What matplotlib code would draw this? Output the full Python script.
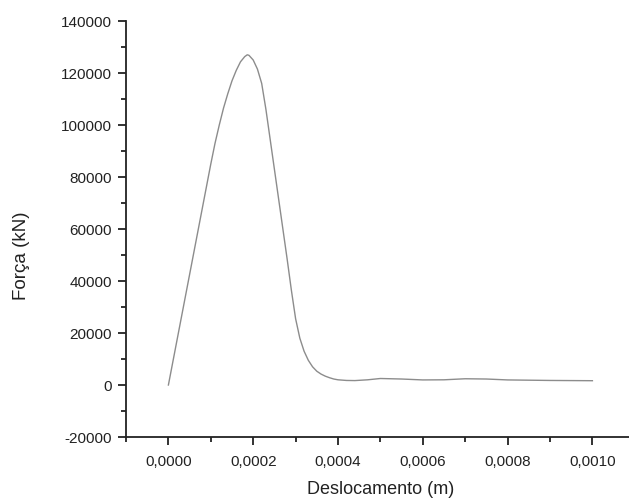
import matplotlib

matplotlib.use("Agg")
import matplotlib.pyplot as plt  # noqa: E402
from matplotlib.ticker import FuncFormatter, MultipleLocator  # noqa: E402

plt.rcParams["font.family"] = ["Liberation Sans", "DejaVu Sans"]

# displacement (m) vs force (kN)
deslocamento = [
    0.0, 0.00002, 0.00004, 0.00006, 0.00008, 0.0001, 0.00011, 0.00012,
    0.00013, 0.00014, 0.00015, 0.00016, 0.00017, 0.00018, 0.000186, 0.00019,
    0.0002, 0.00021, 0.00022, 0.00023, 0.00024, 0.00025, 0.00026, 0.00027,
    0.00028, 0.00029, 0.0003, 0.00031, 0.00032, 0.00033, 0.00034, 0.00035,
    0.00036, 0.00037, 0.00038, 0.00039, 0.0004, 0.00042, 0.00044, 0.00047,
    0.0005, 0.00055, 0.0006, 0.00065, 0.0007, 0.00075, 0.0008, 0.0009, 0.001,
]
forca = [
    0, 17000, 34000, 51000, 68000, 85000, 93000, 100000,
    106500, 112000, 117000, 121000, 124300, 126300, 127000, 126800,
    125000, 121500, 116000, 106000, 94500, 83000, 71500, 60000,
    48500, 36500, 25500, 18000, 13000, 9500, 7000, 5300,
    4200, 3400, 2800, 2300, 2000, 1750, 1700, 2000,
    2500, 2300, 1950, 2000, 2400, 2300, 1950, 1750, 1650,
]

INK = "#222222"

fig = plt.figure(figsize=(6.29, 5.02), dpi=100)
ax = fig.add_axes([126 / 629, 1 - 438 / 502, 508.8 / 629, 416 / 502])
ax.plot(deslocamento, forca, color="#8c8c8c", linewidth=1.0)

ax.set_xlim(-0.0001, 0.0011)
ax.set_ylim(-20000, 140000)
ax.xaxis.set_major_locator(MultipleLocator(0.0002))
ax.xaxis.set_minor_locator(MultipleLocator(0.0001))
ax.yaxis.set_major_locator(MultipleLocator(20000))
ax.yaxis.set_minor_locator(MultipleLocator(10000))
ax.xaxis.set_major_formatter(FuncFormatter(lambda v, _: f"{v:.4f}".replace(".", ",").replace("-0,0000", "0,0000")))
ax.yaxis.set_major_formatter(FuncFormatter(lambda v, _: f"{v:.0f}"))

for side in ("top", "right"):
    ax.spines[side].set_visible(False)
for side in ("left", "bottom"):
    ax.spines[side].set_color(INK)
    ax.spines[side].set_linewidth(1.3)

ax.tick_params(which="major", direction="out", length=6, width=1.3, colors=INK,
               labelsize=11, pad=4)
ax.tick_params(which="minor", direction="out", length=3.5, width=1.3, colors=INK)
ax.tick_params(axis="x", which="major", pad=6)

ax.set_xlabel("Deslocamento (m)", fontsize=13, color=INK, labelpad=9)
ax.set_ylabel("Força (kN)", fontsize=13.5, color=INK)
ax.yaxis.set_label_coords(-96 / 508.8, (438 - 256) / 416)

fig.savefig("out.png", dpi=100, facecolor="white")
